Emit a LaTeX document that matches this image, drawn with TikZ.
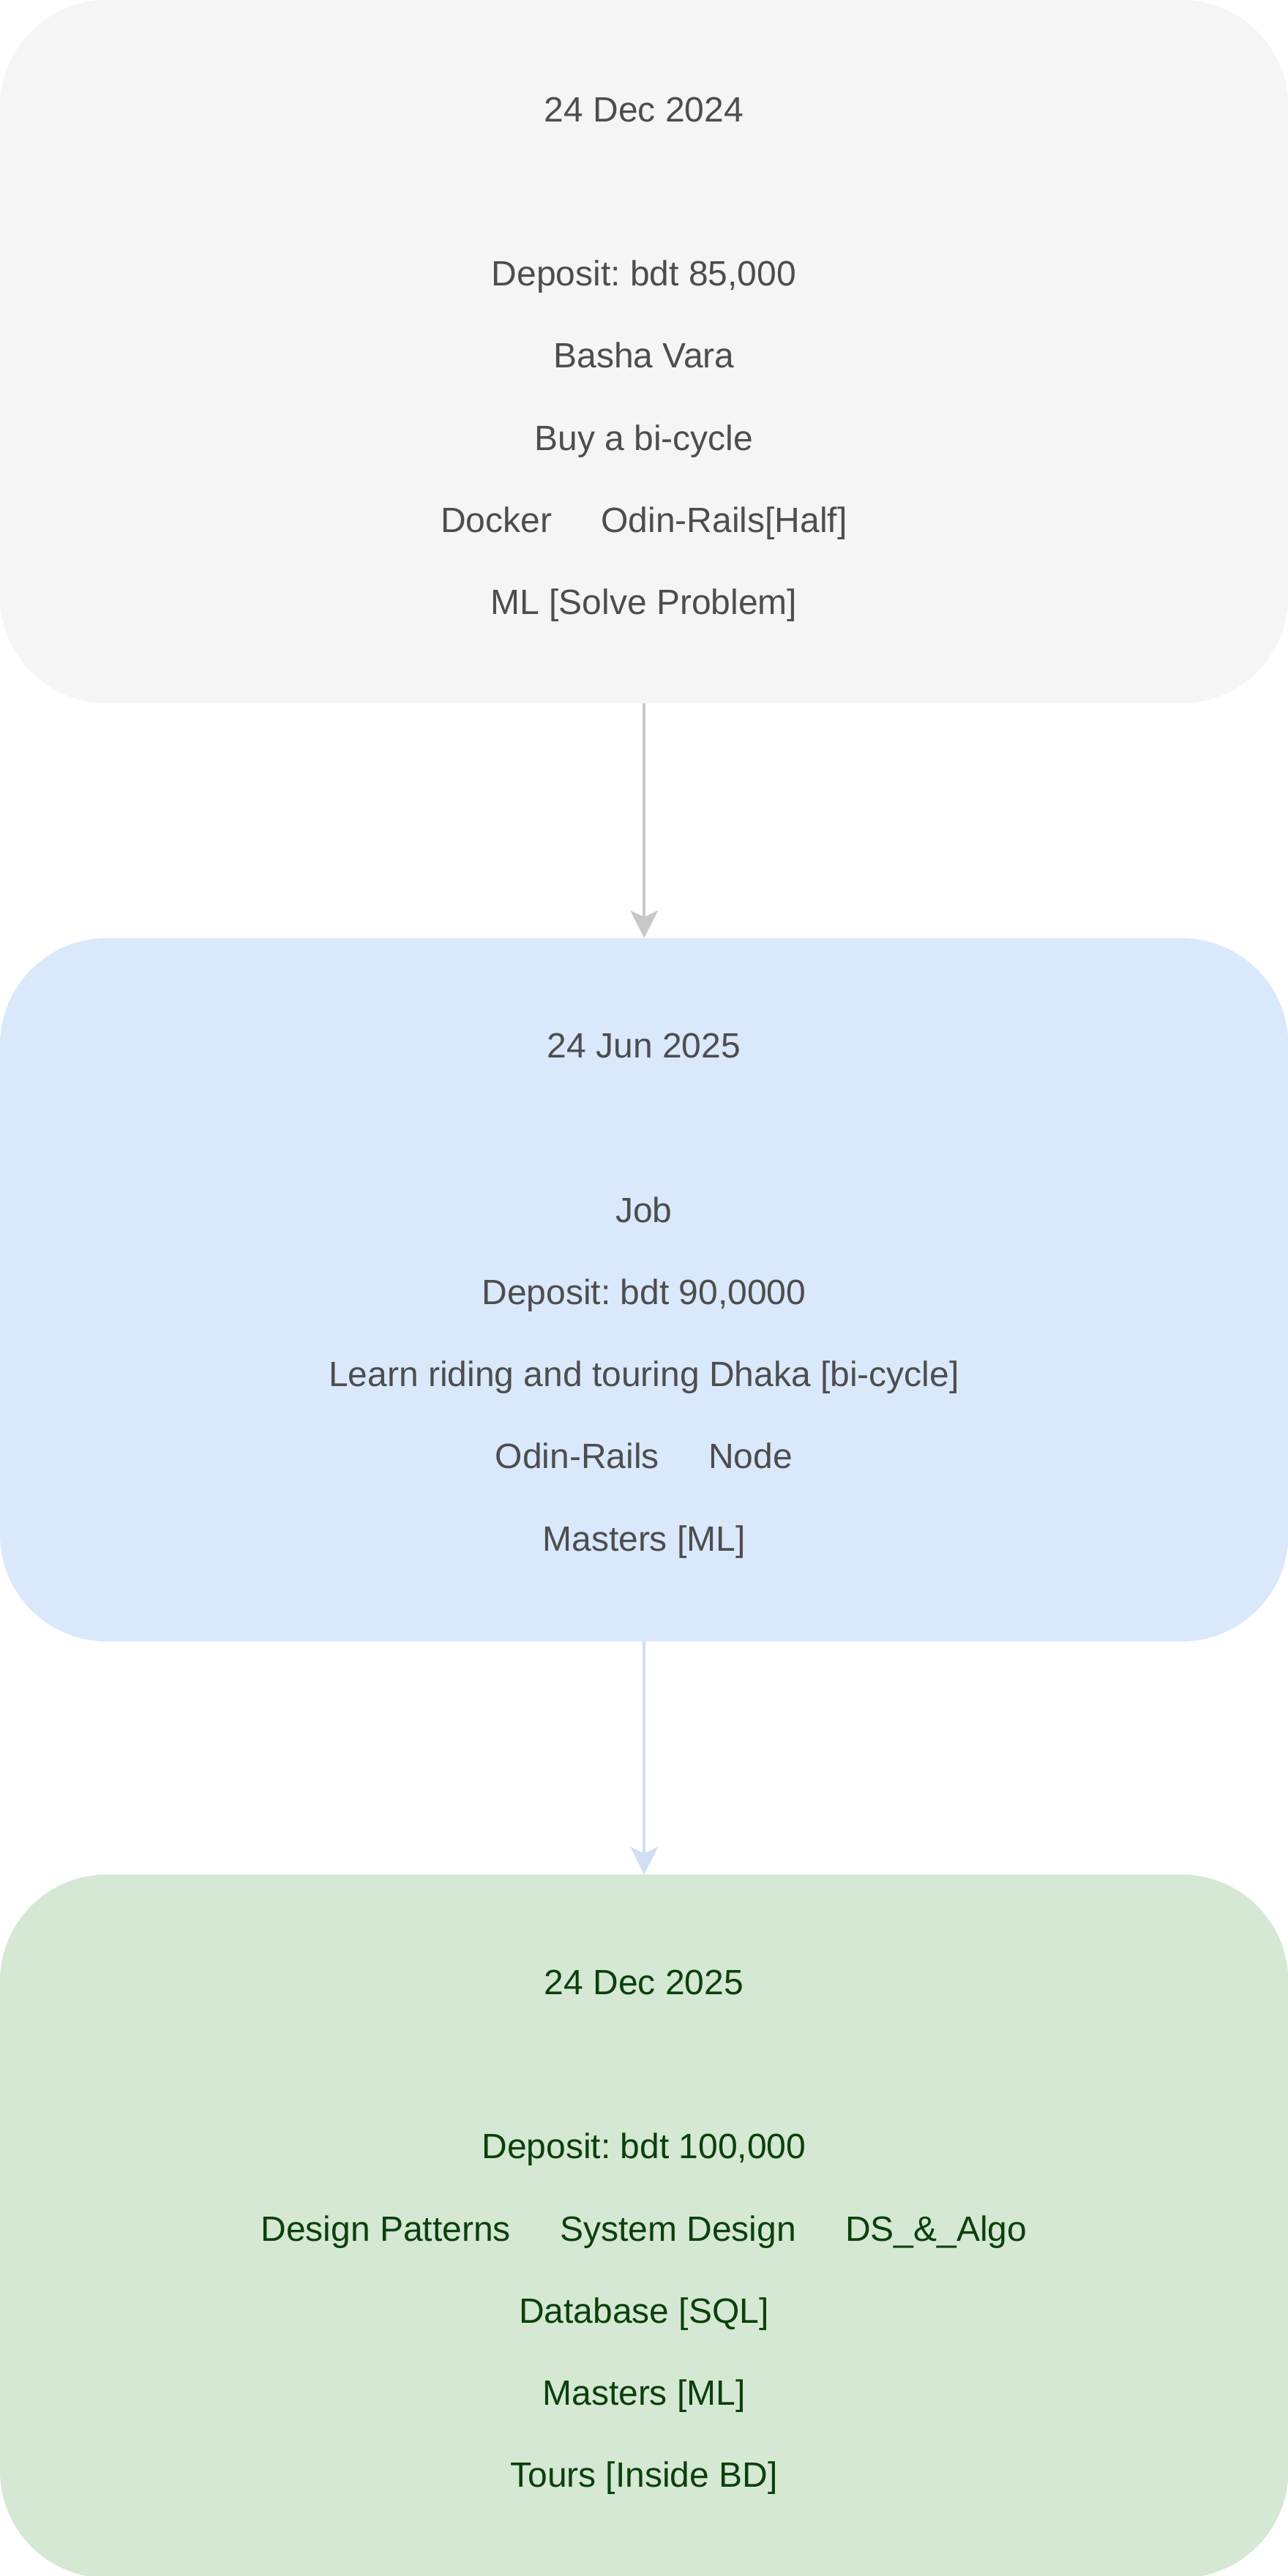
\documentclass[tikz,border=0pt]{standalone}
\usepackage{fontspec}
\setmainfont{Liberation Sans}
\frenchspacing
\usetikzlibrary{arrows.meta}
\definecolor{grayfill}{HTML}{F5F5F5}
\definecolor{bluefill}{HTML}{DAE8FC}
\definecolor{greenfill}{HTML}{D5E8D4}
\definecolor{graytext}{HTML}{4D4D4D}
\definecolor{greentext}{HTML}{0B400B}
\definecolor{grayarrow}{HTML}{C8C8C8}
\definecolor{bluearrow}{HTML}{D0DFF2}
\tikzset{
	planbox/.style={rectangle,rounded corners=1.625cm,inner sep=0pt,outer sep=0pt,
		minimum width=19.6cm,minimum height=10.7cm,anchor=north west},
	item/.style={anchor=base,inner sep=0pt,font=\fontsize{15.2}{18}\selectfont},
	link/.style={line width=1.1pt,-{Stealth[length=0.42cm,width=0.42cm,inset=0.1cm]}}
}
\newcommand{\gapp}{\hspace{0.75cm}}
\begin{document}
\begin{tikzpicture}[x=0.025cm,y=-0.025cm]
	\useasboundingbox (0,0) rectangle (784,1568);
	
	% Ba khung
	\node[planbox,fill=grayfill] (dec24) at (0,0) {};
	\node[planbox,fill=bluefill] (jun25) at (0,571) {};
	\node[planbox,fill=greenfill] (dec25) at (0,1141) {};
	
	% Khung 1
	\begin{scope}[every node/.style={item,text=graytext}]
		\node (a1) at (392,74) {24 Dec 2024};
		\node (a2) at (392,174) {Deposit: bdt 85,000};
		\node (a3) at (392,224) {Basha Vara};
		\node (a4) at (392,274) {Buy a bi-cycle};
		\node (a5) at (392,324) {Docker\gapp Odin-Rails[Half]};
		\node (a6) at (392,374) {ML [Solve Problem]};
	\end{scope}
	
	% Khung 2
	\begin{scope}[every node/.style={item,text=graytext}]
		\node (b1) at (392,644) {24 Jun 2025};
		\node (b2) at (392,744) {Job};
		\node (b3) at (392,794) {Deposit: bdt 90,0000};
		\node (b4) at (392,844) {Learn riding and touring Dhaka [bi-cycle]};
		\node (b5) at (392,894) {Odin-Rails\gapp Node};
		\node (b6) at (392,944) {Masters [ML]};
	\end{scope}
	
	% Khung 3
	\begin{scope}[every node/.style={item,text=greentext}]
		\node (c1) at (392,1214) {24 Dec 2025};
		\node (c2) at (392,1314) {Deposit: bdt 100,000};
		\node (c3) at (392,1364) {Design Patterns\gapp System Design\gapp DS\_\&\_Algo};
		\node (c4) at (392,1414) {Database [SQL]};
		\node (c5) at (392,1464) {Masters [ML]};
		\node (c6) at (392,1514) {Tours [Inside BD]};
	\end{scope}
	
	% Mũi tên
	\draw[link,grayarrow] (dec24.south) -- (jun25.north);
	\draw[link,bluearrow] (jun25.south) -- (dec25.north);
\end{tikzpicture}
\end{document}
